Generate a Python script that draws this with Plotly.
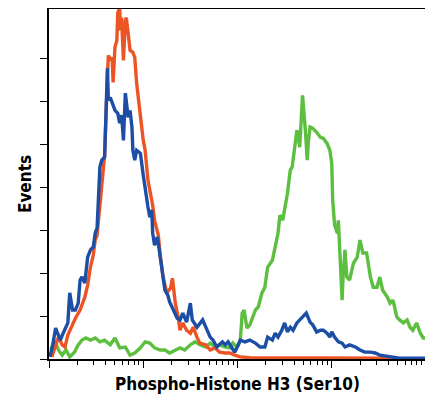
import plotly.graph_objects as go

# log10 fluorescence intensity and event counts for each histogram
red_log = [0.03,0.06,0.10,0.14,0.17,0.20,0.22,0.25,0.28,0.33,0.38,0.41,0.44,0.47,0.49,0.51,0.54,0.57,0.59,0.62,
           0.63,0.65,0.67,0.68,0.70,0.72,0.73,0.75,0.76,0.77,0.79,0.81,0.82,0.84,0.86,0.89,0.91,0.93,0.97,1.00,
           1.02,1.05,1.07,1.10,1.12,1.16,1.18,1.21,1.25,1.29,1.31,1.34,1.37,1.39,1.42,1.46,1.50,1.53,1.57,1.60,
           1.66,1.71,1.76,1.81,1.87,1.92,1.97,2.03,2.13,2.66,3.62,3.72]
red_cnt = [0.5,2.6,5.1,3.3,2.8,5.6,6.7,7.9,9.5,11.4,14.4,17.2,21.4,24.2,27.7,28.8,35.8,44.0,47.4,66.1,
           70.7,69.5,70.2,64.4,72.6,74.2,80.7,81.6,76.5,79.5,69.5,78.8,79.5,75.8,71.9,71.4,70.2,64.2,56.3,50.9,
           48.6,41.6,39.3,35.8,32.3,28.8,24.2,19.1,15.4,16.5,18.8,13.0,9.8,6.7,8.4,6.7,6.0,7.4,5.1,3.7,
           3.3,2.1,2.6,1.6,1.4,1.4,0.9,0.5,0.3,0.3,0.2,0.0]

blue_log = [0.01,0.04,0.07,0.12,0.15,0.20,0.22,0.25,0.28,0.31,0.33,0.35,0.38,0.41,0.44,0.47,0.49,0.51,0.54,0.56,
            0.59,0.60,0.62,0.63,0.65,0.68,0.70,0.73,0.75,0.77,0.79,0.81,0.82,0.84,0.86,0.88,0.89,0.91,0.93,0.97,
            1.00,1.02,1.04,1.05,1.07,1.09,1.10,1.12,1.15,1.18,1.21,1.23,1.26,1.28,1.32,1.36,1.39,1.42,1.46,1.50,
            1.52,1.57,1.63,1.68,1.71,1.74,1.78,1.84,1.87,1.90,1.94,1.97,2.01,2.03,2.08,2.13,2.19,2.24,2.29,2.32,
            2.37,2.40,2.43,2.47,2.50,2.53,2.56,2.59,2.63,2.66,2.69,2.73,2.77,2.80,2.84,2.88,2.91,2.95,2.98,3.00,
            3.03,3.07,3.11,3.14,3.19,3.25,3.30,3.35,3.41,3.46,3.51,3.62,3.72,4.00]
blue_cnt = [0.5,3.3,7.2,4.4,6.0,8.4,15.4,11.4,11.4,13.0,18.4,19.1,17.7,23.7,25.4,26.1,29.3,30.5,44.7,46.3,
            47.0,55.6,67.7,60.2,60.9,59.1,57.9,57.2,54.9,56.8,50.9,61.9,60.2,56.3,57.9,54.0,48.6,46.3,48.6,47.9,
            42.8,39.3,37.0,35.4,33.0,34.7,29.3,26.5,28.4,23.7,18.4,16.0,14.9,13.3,11.4,9.5,9.1,10.7,8.6,13.0,
            9.1,7.4,9.1,6.7,5.1,4.4,2.8,4.0,3.3,4.0,2.6,1.6,3.3,4.4,4.0,4.4,3.7,2.8,2.8,5.1,
            4.4,6.0,5.1,6.7,8.4,6.3,7.4,6.7,8.4,9.1,9.8,10.7,8.6,7.9,6.3,6.7,6.7,6.0,5.1,6.3,
            5.1,4.0,3.7,2.8,3.3,2.8,2.1,1.6,1.6,1.4,0.9,0.5,0.2,0.2]

green_log = [0.02,0.06,0.10,0.14,0.18,0.22,0.27,0.31,0.35,0.39,0.44,0.49,0.54,0.59,0.65,0.70,0.75,0.81,0.86,0.91,
             0.97,1.02,1.07,1.12,1.18,1.23,1.28,1.34,1.39,1.44,1.50,1.55,1.60,1.66,1.71,1.76,1.81,1.87,1.92,1.95,
             1.99,2.03,2.05,2.07,2.10,2.13,2.19,2.22,2.26,2.29,2.32,2.37,2.40,2.43,2.45,2.48,2.53,2.56,2.58,2.61,
             2.63,2.66,2.68,2.69,2.72,2.74,2.75,2.77,2.80,2.84,2.88,2.91,2.95,2.98,3.00,3.01,3.03,3.06,3.07,3.09,
             3.11,3.12,3.14,3.16,3.19,3.23,3.27,3.30,3.33,3.37,3.41,3.44,3.48,3.51,3.54,3.59,3.62,3.65,3.69,3.72,
             3.76,3.80,3.83,3.86,3.90,3.94,3.97,4.00]
green_cnt = [2.1,4.4,2.1,0.9,2.1,0.5,1.6,3.3,4.4,4.9,4.4,4.9,4.0,4.4,3.3,4.9,2.6,2.8,0.9,1.4,
             2.6,4.0,3.7,2.6,2.1,2.1,1.4,2.1,2.6,2.1,3.3,4.0,3.3,2.8,3.7,2.8,3.3,2.8,2.6,3.7,
             2.8,4.4,10.7,11.4,7.2,7.9,11.4,12.1,15.4,16.7,21.4,23.0,26.1,29.3,33.5,32.3,38.6,44.0,44.7,49.3,
             53.3,49.3,56.3,61.4,53.3,46.3,50.2,54.0,53.7,52.8,51.6,51.4,50.2,48.6,45.6,37.0,31.2,29.3,32.3,23.7,
             13.7,19.1,25.4,19.1,18.4,22.3,23.7,27.7,24.7,24.7,19.1,16.7,16.7,19.1,16.0,14.4,13.0,13.7,9.8,9.1,
             8.4,9.1,7.4,6.7,8.4,6.0,4.9,4.9]

major_ticks = [1, 10, 100, 1000, 10000]
minor_ticks = [m * 10 ** k for k in range(4) for m in range(2, 10)]
y_ticks = [0, 10, 20, 30, 40, 50, 60, 70]

fig = go.Figure()
for xs, ys, col in [(green_log, green_cnt, "#5cbf3f"),
                    (red_log, red_cnt, "#ec5424"),
                    (blue_log, blue_cnt, "#1c4ea6")]:
    fig.add_trace(go.Scatter(x=[10 ** v for v in xs], y=ys, mode="lines",
                             line=dict(color=col, width=3.4), showlegend=False,
                             hoverinfo="skip"))

font_title = dict(family="Liberation Sans Narrow, DejaVu Sans Condensed, Arial Narrow, sans-serif",
                  size=17, color="black")

# the page body adds an 8px offset; the figure is sized to fill the window from there
fig.update_layout(
    width=425, height=394,
    margin=dict(l=41, r=7, t=1, b=43),
    paper_bgcolor="white", plot_bgcolor="white",
    xaxis=dict(type="log", range=[0, 4], showgrid=False, zeroline=False, automargin=False,
               showline=True, linecolor="black", linewidth=1.5, mirror=True,
               ticks="outside", ticklen=7, tickwidth=1.2, tickcolor="black",
               tickvals=major_ticks, showticklabels=False,
               minor=dict(tickvals=minor_ticks, ticks="outside", ticklen=4,
                          tickwidth=1, tickcolor="black", showgrid=False),
               title=dict(text="<b>Phospho-Histone H3 (Ser10)</b>", font=font_title, standoff=11)),
    yaxis=dict(range=[0, 81.5], showgrid=False, zeroline=False, automargin=False,
               showline=True, linecolor="black", linewidth=1.5, mirror=True,
               ticks="outside", ticklen=7, tickwidth=1.2, tickcolor="black",
               tickvals=y_ticks, showticklabels=False,
               title=dict(text="<b>Events</b>", font=font_title, standoff=4)),
)

fig.write_html("out.html")
